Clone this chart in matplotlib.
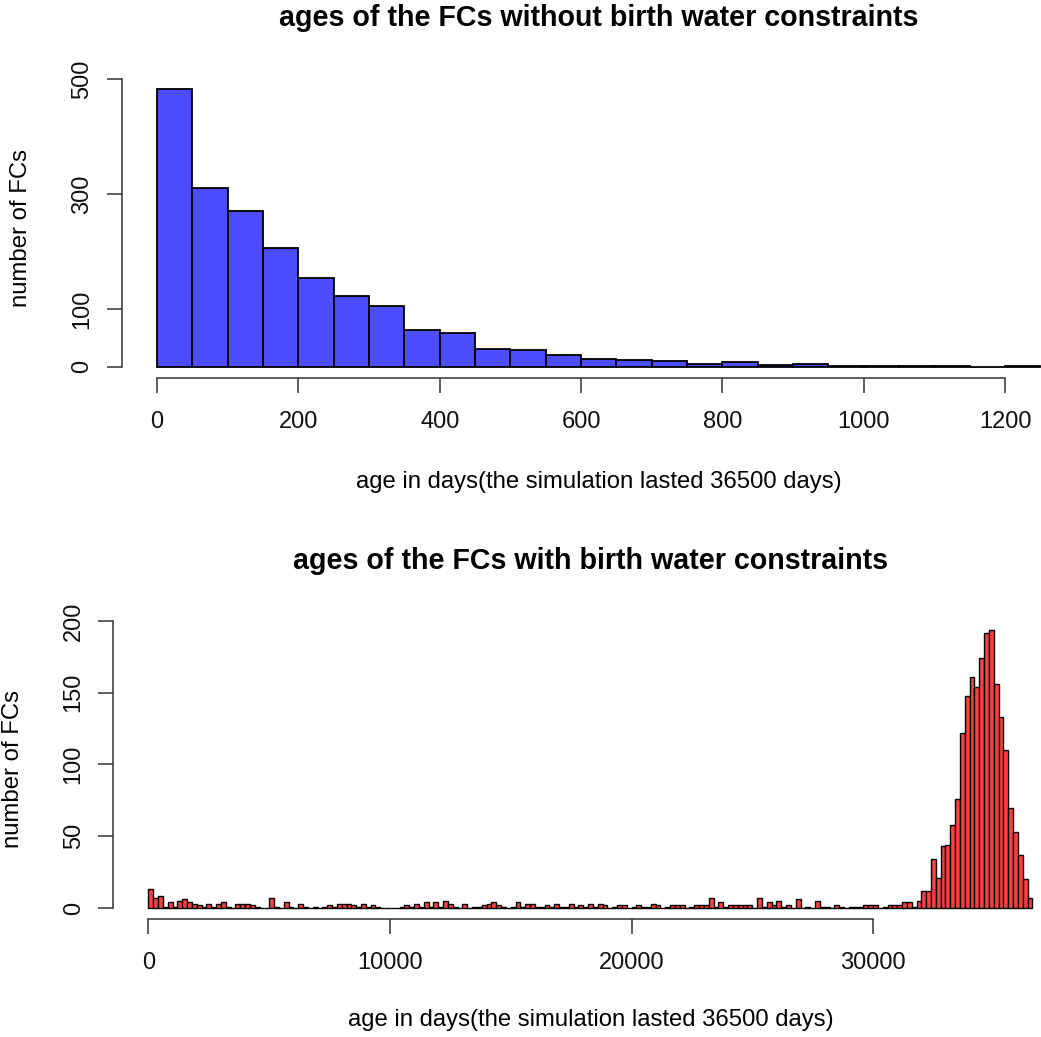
import numpy as np
import matplotlib
matplotlib.use("Agg")
import matplotlib.pyplot as plt

plt.rcParams['font.family'] = ['Liberation Sans', 'DejaVu Sans']

# ages of the FCs, no birth water constraint: 50-day bins starting at 0
free_width = 50
free_counts = [483, 310, 271, 206, 155, 122, 106, 64, 59, 31, 29, 20, 13,
               11, 10, 5, 9, 3, 5, 2, 2, 1, 1, 0, 1]

# ages of the FCs with birth water constraint: 200-day bins starting at 0
water_width = 200
water_counts = [
    13, 7, 8, 1, 4, 1, 5, 6, 4, 3, 2, 1, 3, 1, 3, 4, 1, 0, 3, 3,
    3, 2, 1, 0, 0, 7, 1, 0, 4, 1, 0, 3, 1, 0, 1, 0, 1, 2, 1, 3,
    3, 3, 2, 1, 3, 1, 2, 1, 0, 0, 0, 0, 1, 2, 1, 3, 1, 4, 1, 4,
    1, 5, 3, 1, 0, 3, 0, 1, 1, 2, 3, 4, 2, 1, 0, 1, 4, 1, 3, 3,
    1, 1, 2, 1, 3, 1, 1, 3, 1, 2, 1, 3, 1, 3, 2, 0, 1, 2, 2, 0,
    1, 2, 1, 1, 3, 2, 0, 1, 2, 2, 2, 0, 1, 2, 2, 2, 7, 1, 4, 1,
    2, 2, 2, 2, 2, 0, 7, 1, 4, 2, 5, 1, 2, 0, 6, 0, 1, 0, 5, 1,
    1, 0, 2, 1, 0, 1, 1, 1, 2, 2, 2, 0, 1, 2, 2, 2, 4, 4, 1, 5,
    12, 12, 34, 21, 43, 44, 58, 76, 122, 148, 161, 154, 174, 192, 194, 156, 133, 110, 70, 53,
    37, 20, 7,
]

free_ticks = [0, 200, 400, 600, 800, 1000, 1200]
free_yticks = [0, 100, 300, 500]
water_ticks = [0, 10000, 20000, 30000]
water_yticks = [0, 50, 100, 150, 200]

xlab = "age in days(the simulation lasted 36500 days)"
ylab = "number of FCs"

W, H = 1041, 1037
fig = plt.figure(figsize=(W / 100, H / 100), dpi=100)


def px(x0, y0, x1, y1):
    # pixel box (top-left origin) -> figure fraction rect
    return [x0 / W, 1 - y1 / H, (x1 - x0) / W, (y1 - y0) / H]


def r_style(ax, xt, yt):
    for s in ['top', 'right']:
        ax.spines[s].set_visible(False)
    for s in ['left', 'bottom']:
        ax.spines[s].set_color('#333333')
        ax.spines[s].set_linewidth(1.1)
    ax.spines['left'].set_bounds(yt[0], yt[-1])
    ax.spines['bottom'].set_bounds(xt[0], xt[-1])
    ax.set_xticks(xt)
    ax.set_yticks(yt)
    ax.tick_params(axis='both', direction='out', length=10.5, width=1.1,
                   color='#333333', labelsize=17, labelcolor='#111111')
    ax.tick_params(axis='x', pad=13.5)
    ax.tick_params(axis='y', pad=10, labelrotation=90)
    for lab in ax.get_yticklabels():
        lab.set_verticalalignment('center')


# top histogram
edges = np.arange(len(free_counts)) * free_width
ax1 = fig.add_axes(px(121.7, 77.7, 1075.7, 377.8))
ax1.bar(edges, free_counts, width=free_width, align='edge',
        color='#4d4dff', edgecolor='black', linewidth=1.3)
ax1.set_xlim(-50, 1300)
ax1.set_ylim(-0.04 * max(free_counts), 1.04 * max(free_counts))
r_style(ax1, free_ticks, free_yticks)

# bottom histogram
edges2 = np.arange(len(water_counts)) * water_width
ax2 = fig.add_axes(px(113.1, 618.5, 1067.8, 919.1))
ax2.bar(edges2, water_counts, width=water_width, align='edge',
        color='#ff4040', edgecolor='black', linewidth=1.0)
ax2.set_xlim(-1464, 38064)
ax2.set_ylim(-0.04 * max(water_counts), 1.04 * max(water_counts))
r_style(ax2, water_ticks, water_yticks)

# titles and axis labels
fig.text(598.7 / W, 1 - 18 / H, "ages of the FCs without birth water constraints",
         ha='center', va='center', fontsize=20.6, fontweight='bold')
fig.text(598.7 / W, 1 - 482 / H, xlab, ha='center', va='center', fontsize=17.2)
fig.text(21 / W, 1 - 227.7 / H, ylab, ha='center', va='center',
         fontsize=17.2, rotation=90)

fig.text(590.5 / W, 1 - 561 / H, "ages of the FCs with birth water constraints",
         ha='center', va='center', fontsize=20.6, fontweight='bold')
fig.text(590.5 / W, 1 - 1020 / H, xlab, ha='center', va='center', fontsize=17.2)
fig.text(13 / W, 1 - 768.8 / H, ylab, ha='center', va='center',
         fontsize=17.2, rotation=90)

fig.savefig("out.png", dpi=100)
